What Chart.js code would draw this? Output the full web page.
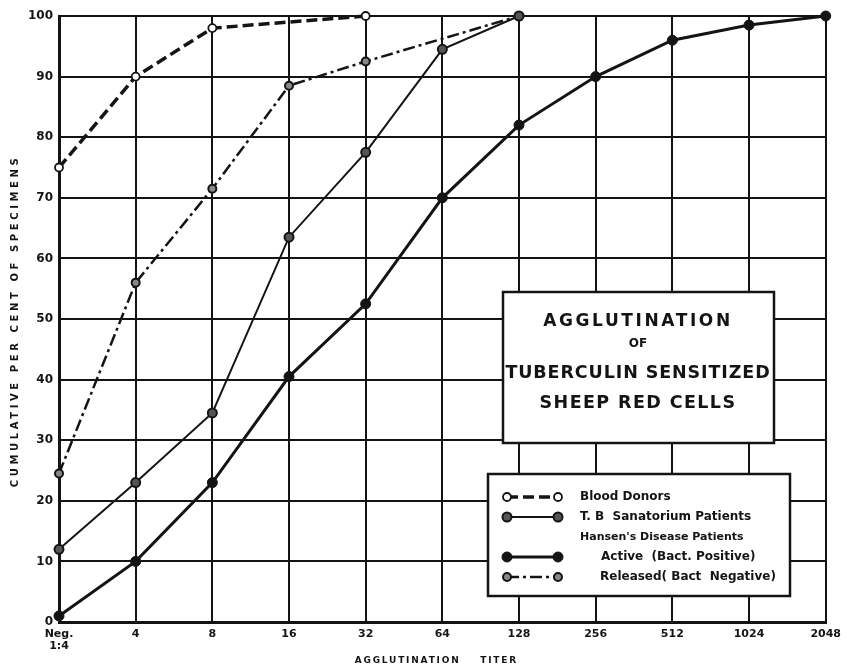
<!DOCTYPE html>
<html>
<head>
<meta charset="utf-8">
<script src="https://cdn.jsdelivr.net/npm/chart.js@4/dist/chart.umd.min.js"></script>
<style>
  html, body { margin: 0; padding: 0; background: #fff; }
</style>
</head>
<body>
<canvas id="titerChart" width="847" height="670"></canvas>
<script>
/////////// Data ///////////
const titers = [["Neg.", "1:4"], "4", "8", "16", "32", "64", "128", "256", "512", "1024", "2048"]
const yTickValues = [0, 10, 20, 30, 40, 50, 60, 70, 80, 90, 100]

const bloodDonors = [75, 90, 98, null, 100]
const tbSanatorium = [12, 23, 34.5, 63.5, 77.5, 94.5, 100]
const hansenActive = [1, 10, 23, 40.5, 52.5, 70, 82, 90, 96, 98.5, 100]
const hansenReleased = [24.5, 56, 71.5, 88.5, 92.5, null, 100]

const titleLines = ["AGGLUTINATION", "OF", "TUBERCULIN SENSITIZED", "SHEEP RED CELLS"]
const legendHeader = "Hansen's Disease Patients"
const xTitle = "AGGLUTINATION    TITER"
const yTitle = "CUMULATIVE PER CENT OF SPECIMENS"

const INK = "#141414"
const FONT = "'DejaVu Sans', sans-serif"

////////// Plugin for the boxed title, boxed legend and axis titles //////////
const annotationsPlugin = {
    id: "annotations",
    afterDraw(chart) {
        const ctx = chart.ctx
        const area = chart.chartArea
        ctx.save()

        // axis titles
        ctx.fillStyle = INK
        ctx.font = "bold 9px " + FONT
        ctx.letterSpacing = "1.8px"
        ctx.textAlign = "center"
        ctx.textBaseline = "middle"
        ctx.fillText(xTitle, (area.left + area.right) / 2 - 6, 661)
        ctx.save()
        ctx.translate(15, 321)
        ctx.rotate(-Math.PI / 2)
        ctx.font = "bold 10px " + FONT
        ctx.letterSpacing = "3.6px"
        ctx.fillText(yTitle, 0, 0)
        ctx.restore()
        ctx.letterSpacing = "0px"

        // title box
        ctx.fillStyle = "#fff"
        ctx.strokeStyle = INK
        ctx.lineWidth = 2.5
        ctx.fillRect(503, 292, 271, 151)
        ctx.strokeRect(503, 292, 271, 151)
        ctx.fillStyle = INK
        const titleY = [322, 344, 373, 403]
        const titleSize = [17, 12, 17.5, 17.5]
        const titleSpacing = ["2.6px", "0px", "0.9px", "1.4px"]
        titleLines.forEach((line, i) => {
            ctx.font = "bold " + titleSize[i] + "px " + FONT
            ctx.letterSpacing = titleSpacing[i]
            ctx.fillText(line, 638, titleY[i])
        })
        ctx.letterSpacing = "0px"

        // legend box
        ctx.fillStyle = "#fff"
        ctx.fillRect(488, 474, 302, 122)
        ctx.strokeRect(488, 474, 302, 122)
        const rows = [
            { ds: 0, y: 497, x: 580 },
            { ds: 1, y: 517, x: 580 },
            { ds: null, y: 537, x: 580 },
            { ds: 2, y: 557, x: 601 },
            { ds: 3, y: 577, x: 600 }
        ]
        ctx.textAlign = "left"
        rows.forEach(row => {
            if (row.ds === null) {
                ctx.font = "bold 11px " + FONT
                ctx.fillStyle = INK
                ctx.fillText(legendHeader, row.x, row.y)
                return
            }
            const ds = chart.data.datasets[row.ds]
            ctx.strokeStyle = INK
            ctx.lineWidth = ds.borderWidth
            ctx.setLineDash(ds.borderDash || [])
            ctx.beginPath()
            ctx.moveTo(507, row.y)
            ctx.lineTo(558, row.y)
            ctx.stroke()
            ctx.setLineDash([])
            ;[507, 558].forEach(px => {
                ctx.beginPath()
                ctx.arc(px, row.y, ds.pointRadius, 0, Math.PI * 2)
                ctx.fillStyle = ds.pointBackgroundColor
                ctx.fill()
                ctx.lineWidth = ds.pointBorderWidth
                ctx.stroke()
            })
            ctx.font = "bold 12px " + FONT
            ctx.fillStyle = INK
            ctx.fillText(ds.label, row.x, row.y)
        })
        ctx.restore()
    }
}

let ctx = document.getElementById("titerChart").getContext("2d")
const titerChart = new Chart(ctx, {
    type: "line",
    data: {
        labels: titers,
        datasets: [{
            label: "Blood Donors",
            data: bloodDonors,
            borderColor: INK,
            borderWidth: 3.5,
            borderDash: [11, 5],
            pointRadius: 4,
            pointBackgroundColor: "#fff",
            pointBorderColor: INK,
            pointBorderWidth: 1.8
        }, {
            label: "T. B  Sanatorium Patients",
            data: tbSanatorium,
            borderColor: INK,
            borderWidth: 2,
            pointRadius: 4.5,
            pointBackgroundColor: "#555",
            pointBorderColor: INK,
            pointBorderWidth: 2
        }, {
            label: "Active  (Bact. Positive)",
            data: hansenActive,
            borderColor: INK,
            borderWidth: 3,
            pointRadius: 5,
            pointBackgroundColor: INK,
            pointBorderColor: INK,
            pointBorderWidth: 1
        }, {
            label: "Released( Bact  Negative)",
            data: hansenReleased,
            borderColor: INK,
            borderWidth: 2.5,
            borderDash: [12, 4, 3, 4],
            pointRadius: 4,
            pointBackgroundColor: "#888",
            pointBorderColor: INK,
            pointBorderWidth: 2
        }]
    },
    options: {
        responsive: false,
        animation: false,
        spanGaps: true,
        clip: false,
        layout: {
            padding: { top: 16, right: 21, bottom: 0, left: 0 }
        },
        plugins: {
            legend: { display: false },
            tooltip: { enabled: false }
        },
        elements: {
            line: { tension: 0 }
        },
        scales: {
            x: {
                offset: false,
                afterFit: scale => { scale.height = 48 },
                grid: { color: INK, lineWidth: 2, drawTicks: false },
                border: { color: INK, width: 3 },
                ticks: {
                    color: INK,
                    maxRotation: 0,
                    autoSkip: false,
                    padding: 6,
                    font: { family: FONT, size: 11, weight: "bold", lineHeight: 1.1 }
                }
            },
            y: {
                min: 0,
                max: 100,
                afterFit: scale => { scale.width = 59 },
                afterBuildTicks: scale => { scale.ticks = yTickValues.map(v => ({ value: v })) },
                grid: { color: INK, lineWidth: 2, drawTicks: false },
                border: { color: INK, width: 3 },
                ticks: {
                    color: INK,
                    padding: 6,
                    font: { family: FONT, size: 12, weight: "bold" }
                }
            }
        }
    },
    plugins: [annotationsPlugin]
})
</script>
</body>
</html>
